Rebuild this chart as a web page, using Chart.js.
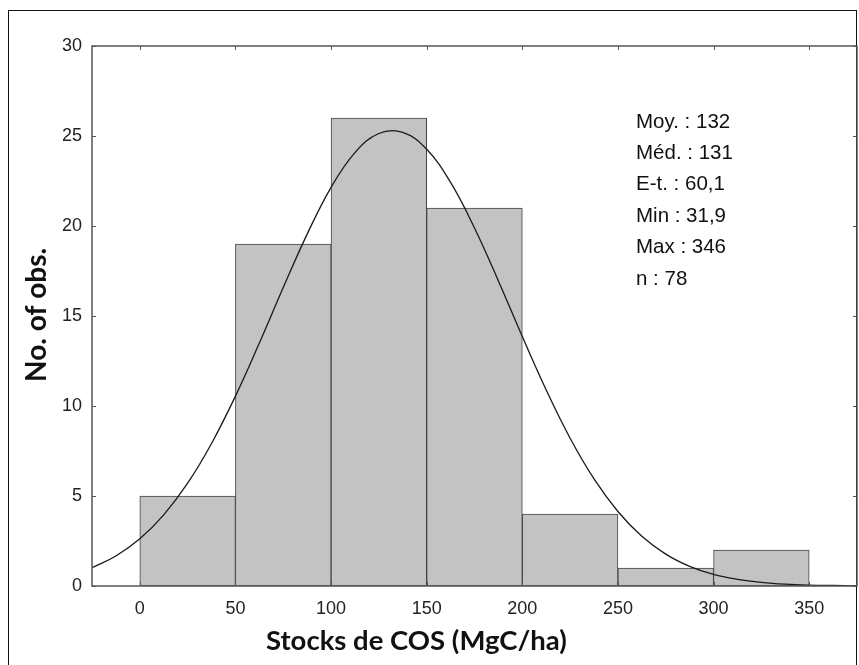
<!DOCTYPE html>
<html>
<head>
<meta charset="utf-8">
<script src="https://cdn.jsdelivr.net/npm/chart.js@4.4.1/dist/chart.umd.min.js"></script>
<style>
  html, body { margin: 0; padding: 0; background: #fff; }
  #wrap { width: 859px; height: 665px; position: relative; }
</style>
</head>
<body>
<div id="wrap"><canvas id="histo"></canvas></div>
<script>
// histogram classes (centre of each 50 MgC/ha bin) and counts
let binCenters = [25, 75, 125, 175, 225, 275, 325];
let counts = [5, 19, 26, 21, 4, 1, 2];

// fitted normal curve, values every 12.5 MgC/ha
let curveX = [-25, -12.5, 0, 12.5, 25, 37.5, 50, 62.5, 75, 87.5, 100, 112.5, 125, 137.5, 150, 162.5,
              175, 187.5, 200, 212.5, 225, 237.5, 250, 262.5, 275, 287.5, 300, 312.5, 325, 337.5, 350, 362.5, 375];
let curveY = [1.02, 1.67, 2.62, 3.95, 5.71, 7.92, 10.55, 13.5, 16.58, 19.55, 22.15, 24.08, 25.14, 25.2, 24.26, 22.42,
              19.89, 16.95, 13.86, 10.89, 8.21, 5.95, 4.14, 2.76, 1.77, 1.09, 0.64, 0.37, 0.2, 0.1, 0.05, 0.03, 0.01];

// tick labels
let xTicks = [0, 50, 100, 150, 200, 250, 300, 350];
let yTicks = [0, 5, 10, 15, 20, 25, 30];

// summary box
let stats = ['Moy. : 132', 'Méd. : 131', 'E-t. : 60,1', 'Min : 31,9', 'Max : 346', 'n : 78'];

Chart.defaults.font.family = 'Liberation Sans';

// outer border, plot frame with inward ticks, axis titles and stats text
const framePlugin = {
  id: 'frame',
  beforeDraw(chart) {
    const c = chart.ctx;
    c.save();
    c.strokeStyle = '#111';
    c.lineWidth = 1;
    c.strokeRect(8.5, 10.5, 848, 700);
    c.restore();
  },
  afterDraw(chart) {
    const { ctx, chartArea: a, scales: { x, y } } = chart;
    ctx.save();
    ctx.strokeStyle = '#555';
    ctx.lineWidth = 1.5;
    ctx.strokeRect(a.left, a.top, a.right - a.left, a.bottom - a.top);
    ctx.beginPath();
    x.ticks.forEach(t => {
      const px = Math.round(x.getPixelForValue(t.value)) + 0.5;
      ctx.moveTo(px, a.top); ctx.lineTo(px, a.top + 4);
      ctx.moveTo(px, a.bottom); ctx.lineTo(px, a.bottom - 4);
    });
    y.ticks.forEach(t => {
      const py = Math.round(y.getPixelForValue(t.value)) + 0.5;
      ctx.moveTo(a.left, py); ctx.lineTo(a.left + 4, py);
      ctx.moveTo(a.right, py); ctx.lineTo(a.right - 4, py);
    });
    ctx.lineWidth = 1;
    ctx.stroke();

    ctx.fillStyle = '#111';
    ctx.textAlign = 'left';
    ctx.textBaseline = 'alphabetic';
    ctx.font = 'bold 27.5px Lato';
    ctx.fillText('Stocks de COS (MgC/ha)', 266, 650);
    ctx.save();
    ctx.font = 'bold 28px Lato';
    ctx.translate(46, 382);
    ctx.rotate(-Math.PI / 2);
    ctx.fillText('No. of obs.', 0, 0);
    ctx.restore();

    ctx.font = '20.5px Liberation Sans';
    stats.forEach((s, i) => ctx.fillText(s, 636, 127.5 + i * 31.4));
    ctx.restore();
  }
};

new Chart(document.getElementById('histo'), {
  type: 'bar',
  data: {
    datasets: [
      {
        type: 'line',
        data: curveX.map((v, i) => ({ x: v, y: curveY[i] })),
        borderColor: '#1a1a1a',
        borderWidth: 1.3,
        pointRadius: 0,
        tension: 0.4,
        fill: false,
        order: 0
      },
      {
        type: 'bar',
        data: binCenters.map((v, i) => ({ x: v, y: counts[i] })),
        backgroundColor: '#c3c3c3',
        borderColor: '#444',
        borderWidth: 1,
        borderSkipped: false,
        barPercentage: 1,
        categoryPercentage: 1,
        order: 1
      }
    ]
  },
  options: {
    responsive: true,
    maintainAspectRatio: false,
    animation: false,
    layout: { padding: { top: 46, right: 2, left: 0, bottom: 0 } },
    plugins: { legend: { display: false }, tooltip: { enabled: false } },
    scales: {
      x: {
        type: 'linear',
        min: -25,
        max: 375,
        offset: false,
        grid: { display: false, drawTicks: false },
        border: { display: false },
        afterBuildTicks: s => { s.ticks = xTicks.map(v => ({ value: v })); },
        afterFit: s => { s.height = 79; },
        ticks: { color: '#222', font: { size: 18 }, padding: 12 }
      },
      y: {
        min: 0,
        max: 30,
        grid: { display: false, drawTicks: false },
        border: { display: false },
        afterBuildTicks: s => { s.ticks = yTicks.map(v => ({ value: v })); },
        afterFit: s => { s.width = 92; },
        ticks: { color: '#222', font: { size: 18 }, padding: 10 }
      }
    }
  },
  plugins: [framePlugin]
});
</script>
</body>
</html>
